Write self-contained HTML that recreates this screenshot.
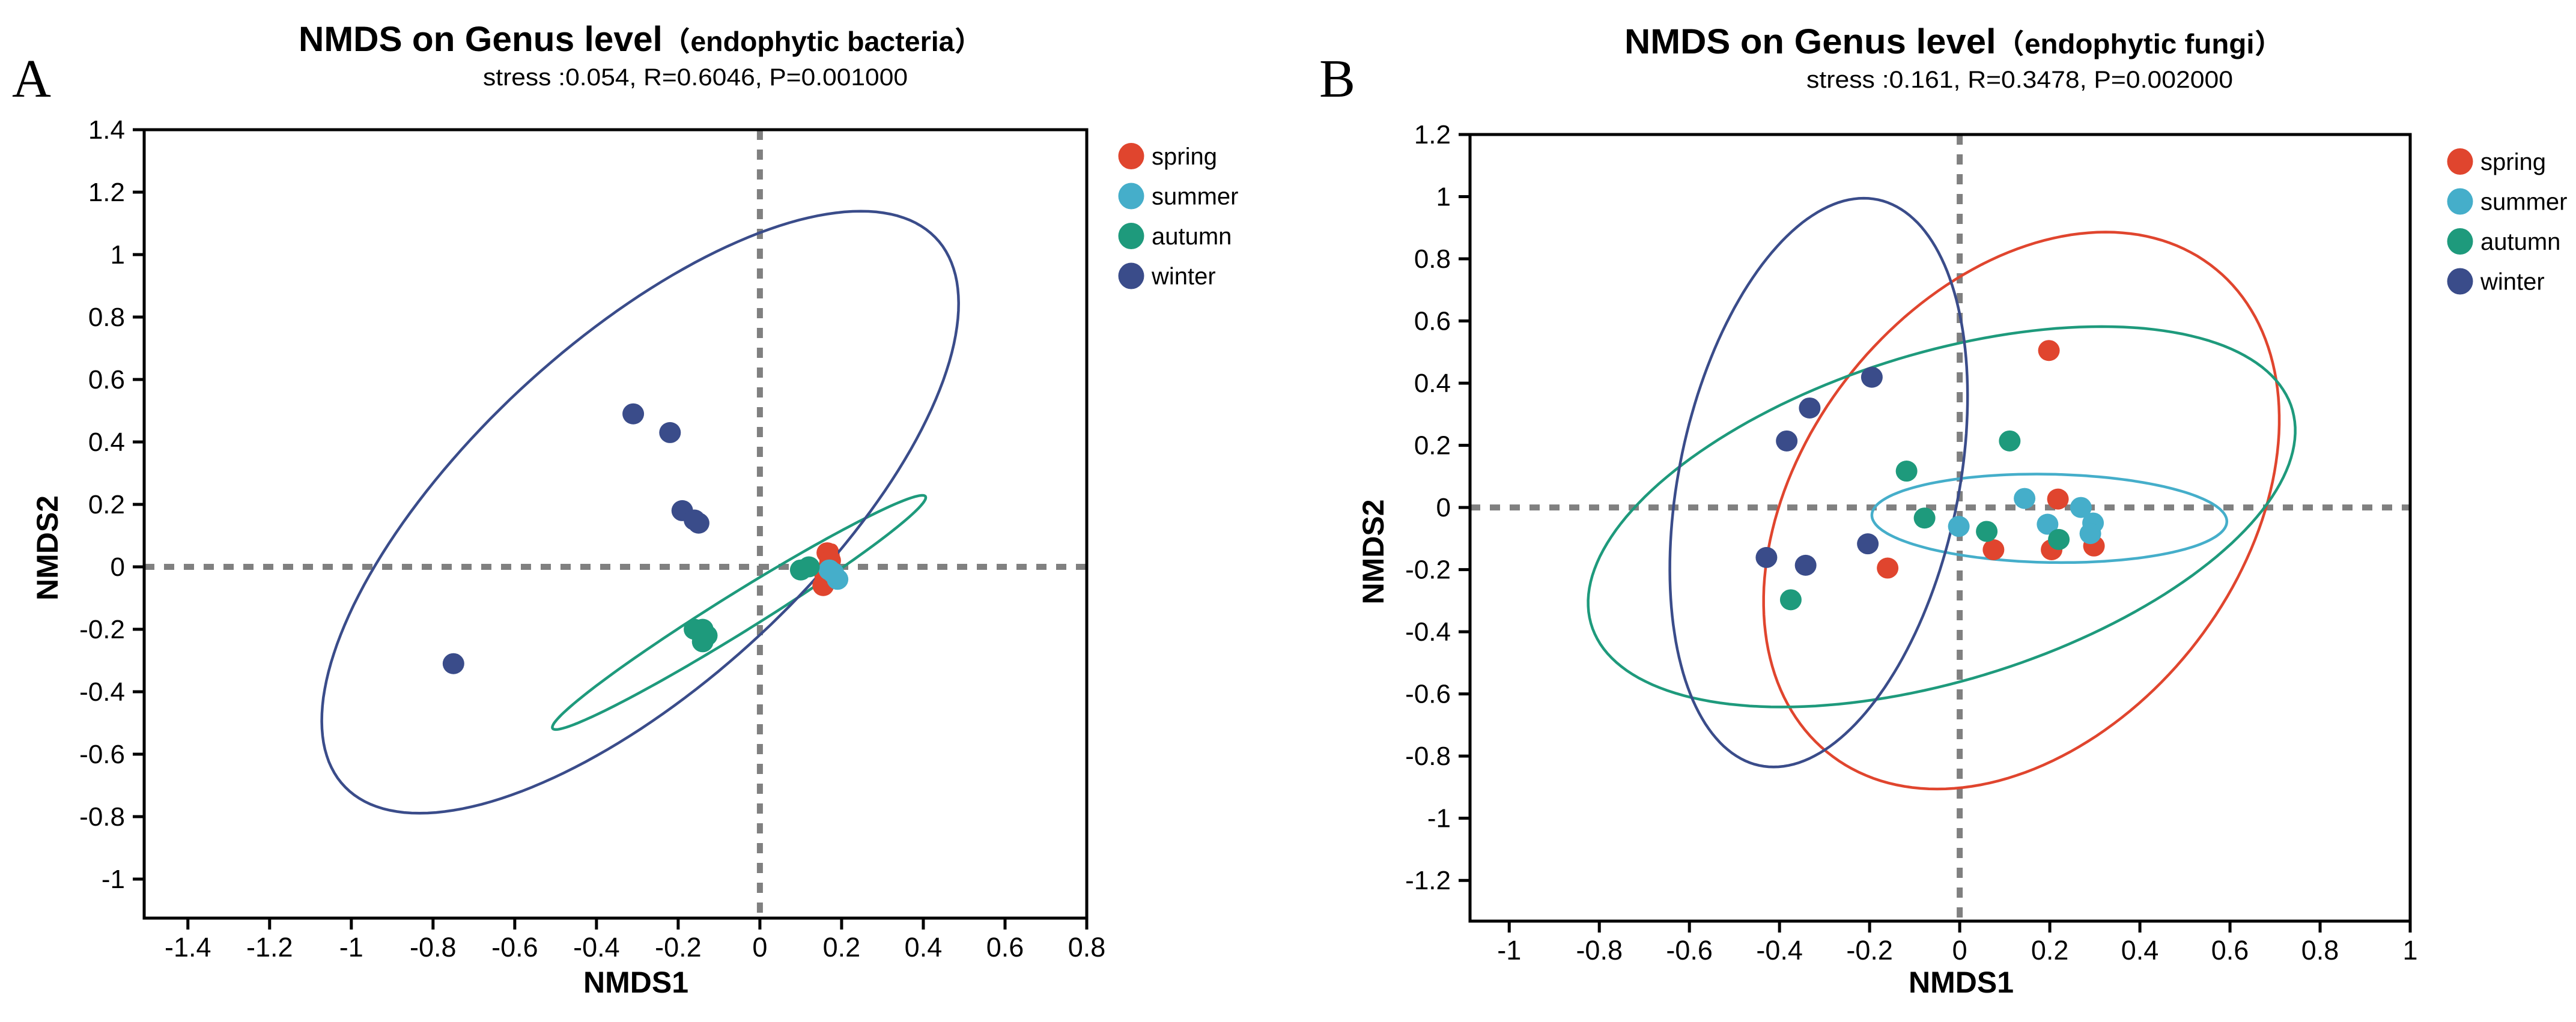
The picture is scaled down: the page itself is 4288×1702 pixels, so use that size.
<!DOCTYPE html>
<html><head><meta charset="utf-8">
<style>
html,body{margin:0;padding:0;background:#fff;}
svg{display:block;}
text{font-family:"Liberation Sans","Noto Sans CJK SC",sans-serif;fill:#000;}
</style></head>
<body>
<svg id="chart" xmlns="http://www.w3.org/2000/svg" width="4288" height="1702" viewBox="0 0 4288 1702">
<rect x="0" y="0" width="4288" height="1702" fill="#fff"/>
<g id="panelA"></g>
<g id="panelB"></g>
</svg>
<script>
const groups = ["spring","summer","autumn","winter"];
const colors = ["#E0452E","#45AECA","#1E9A7C","#3A4C8A"];

// Panel A: endophytic bacteria
const aXTicks = [-1.4,-1.2,-1,-0.8,-0.6,-0.4,-0.2,0,0.2,0.4,0.6,0.8];
const aYTicks = [-1,-0.8,-0.6,-0.4,-0.2,0,0.2,0.4,0.6,0.8,1,1.2,1.4];
const aSpringX = [0.165,0.155,0.172,0.16];
const aSpringY = [0.045,-0.06,0.02,-0.03];
const aSummerX = [0.17,0.19,0.18];
const aSummerY = [-0.01,-0.04,-0.02];
const aAutumnX = [-0.16,-0.14,-0.13,-0.14,0.10,0.12];
const aAutumnY = [-0.2,-0.2,-0.22,-0.24,-0.01,0.0];
const aWinterX = [-0.31,-0.22,-0.19,-0.16,-0.15,-0.75];
const aWinterY = [0.49,0.43,0.18,0.15,0.14,-0.31];
// ellipses: center x, center y, u vector (x,y), v vector (x,y) in data units
const aEllSpring = [0.168,0.0,0.01,0.07,0.022,0];
const aEllAutumn = [-0.051,-0.146,0.457,0.368,0,0.072];
const aEllWinter = [-0.293,0.175,0.54,0.964,0.562,0];

// Panel B: endophytic fungi
const bXTicks = [-1,-0.8,-0.6,-0.4,-0.2,0,0.2,0.4,0.6,0.8,1];
const bYTicks = [-1.2,-1,-0.8,-0.6,-0.4,-0.2,0,0.2,0.4,0.6,0.8,1,1.2];
const bSpringX = [0.198,0.218,0.075,0.204,0.298,-0.16];
const bSpringY = [0.505,0.027,-0.136,-0.136,-0.124,-0.195];
const bSummerX = [0.144,0.269,0.296,0.29,0.195,-0.002];
const bSummerY = [0.029,0.0,-0.05,-0.084,-0.054,-0.061];
const bAutumnX = [0.111,-0.118,-0.078,0.06,0.22,-0.375];
const bAutumnY = [0.214,0.117,-0.034,-0.077,-0.103,-0.297];
const bWinterX = [-0.195,-0.333,-0.384,-0.204,-0.429,-0.342];
const bWinterY = [0.419,0.32,0.214,-0.117,-0.161,-0.186];
const bEllSpring = [0.137,-0.01,0.187,0.896,0.541,0];
const bEllSummer = [0.199,-0.035,0.394,-0.01,0,0.142];
const bEllAutumn = [-0.04,-0.03,0.355,0.612,0.70,0];
const bEllWinter = [-0.313,0.08,0.10,0.915,0.315,0];

const NS = "http://www.w3.org/2000/svg";
function mk(tag, attrs, parent){
  const e = document.createElementNS(NS, tag);
  for (const k in attrs) e.setAttribute(k, attrs[k]);
  parent.appendChild(e);
  return e;
}
function fmt(v){ return (Math.round(v*10)/10).toString(); }

function drawPanel(g, cfg){
  const L=cfg.left,R=cfg.right,T=cfg.top,B=cfg.bottom;
  const sx = v => L + (v-cfg.xmin)/(cfg.xmax-cfg.xmin)*(R-L);
  const sy = v => T + (cfg.ymax-v)/(cfg.ymax-cfg.ymin)*(B-T);

  // panel letter
  const letter = mk("text",{x:cfg.letterX,y:161,"font-size":90,style:"font-family:'Liberation Serif',serif"},g);
  letter.textContent = cfg.letter;
  
  

  // titles
  const t = mk("text",{x:cfg.titleX,y:cfg.titleY,"font-size":58,"font-weight":"bold",textLength:cfg.titleW,lengthAdjust:"spacingAndGlyphs"},g);
  const t1 = mk("tspan",{},t); t1.textContent = "NMDS on Genus level";
  const t2 = mk("tspan",{"font-size":46}, t); t2.textContent = cfg.titleParen;
  
  
  const st = mk("text",{x:cfg.subX,y:cfg.titleY+57,"font-size":40,textLength:cfg.subW,lengthAdjust:"spacingAndGlyphs"},g);
  st.textContent = cfg.subtitle;
  
  

  // zero lines
  const zx = mk("line",{x1:L,x2:R,y1:sy(0),y2:sy(0),stroke:"#808080","stroke-width":10,"stroke-dasharray":"17 16"},g);
  
  
  const zy = mk("line",{x1:sx(0),x2:sx(0),y1:T,y2:B,stroke:"#808080","stroke-width":10,"stroke-dasharray":"17 16"},g);
  
  

  // ellipses
  cfg.ellipses.forEach((el,i)=>{
    if(!el) return;
    let d="";
    for(let k=0;k<=180;k++){
      const a=k/180*2*Math.PI, c=Math.cos(a), s=Math.sin(a);
      const px=sx(el[0]+el[2]*c+el[4]*s), py=sy(el[1]+el[3]*c+el[5]*s);
      d+=(k?"L":"M")+px.toFixed(1)+","+py.toFixed(1);
    }
    const p = mk("path",{d:d+"Z",fill:"none",stroke:colors[i],"stroke-width":4.5},g);
    
    
  });

  // points
  cfg.series.forEach((s,i)=>{
    s[0].forEach((xv,j)=>{
      const c = mk("ellipse",{cx:sx(xv),cy:sy(s[1][j]),rx:18,ry:17.5,fill:colors[i]},g);
      
      
    });
  });

  // frame
  const fr = mk("rect",{x:L,y:T,width:R-L,height:B-T,fill:"none",stroke:"#000","stroke-width":5},g);
  
  

  // ticks
  cfg.xticks.forEach(v=>{
    const x=sx(v);
    const tk = mk("line",{x1:x,x2:x,y1:B,y2:B+19,stroke:"#000","stroke-width":5},g);
    
    
    const lb = mk("text",{x:x,y:B+64,"font-size":45,"text-anchor":"middle"},g);
    lb.textContent = fmt(v);
    
    
  });
  cfg.yticks.forEach(v=>{
    const y=sy(v);
    const tk = mk("line",{x1:L-19,x2:L,y1:y,y2:y,stroke:"#000","stroke-width":5},g);
    
    
    const lb = mk("text",{x:L-32,y:y+15,"font-size":44,"text-anchor":"end"},g);
    lb.textContent = fmt(v);
    
    
  });

  // axis titles
  const xl = mk("text",{x:(L+R)/2-cfg.xlabOff,y:1653,"font-size":50,"font-weight":"bold","text-anchor":"middle"},g);
  xl.textContent="NMDS1";
  
  
  const yl = mk("text",{x:0,y:0,"font-size":50,"font-weight":"bold","text-anchor":"middle",transform:`translate(${cfg.ylabX},${(T+B)/2+40}) rotate(-90)`},g);
  yl.textContent="NMDS2";
  
  

  // legend
  groups.forEach((name,i)=>{
    const y = cfg.legY + i*66.5;
    const lc = mk("ellipse",{cx:cfg.legX,cy:y,rx:21.5,ry:22,fill:colors[i]},g);
    
    
    const lt = mk("text",{x:cfg.legX+34,y:y+14,"font-size":40},g);
    lt.textContent = name;
    
    
  });
}

drawPanel(document.getElementById("panelA"),{
  left:240,right:1809,top:216,bottom:1529,
  xmin:-1.507,xmax:0.8,ymin:-1.125,ymax:1.4,
  xticks:aXTicks,yticks:aYTicks,
  series:[[aSpringX,aSpringY],[aSummerX,aSummerY],[aAutumnX,aAutumnY],[aWinterX,aWinterY]],
  ellipses:[aEllSpring,null,aEllAutumn,aEllWinter],
  letter:"A",letterX:20,
  titleX:497,titleY:85,titleW:1138,titleParen:"（endophytic bacteria）",
  subtitle:"stress :0.054, R=0.6046, P=0.001000",subX:804,subW:707,
  xlabOff:-34,ylabX:96,legX:1883,legY:260
});
drawPanel(document.getElementById("panelB"),{
  left:2447,right:4012,top:224,bottom:1534,
  xmin:-1.087,xmax:1,ymin:-1.331,ymax:1.2,
  xticks:bXTicks,yticks:bYTicks,
  series:[[bSpringX,bSpringY],[bSummerX,bSummerY],[bAutumnX,bAutumnY],[bWinterX,bWinterY]],
  ellipses:[bEllSpring,bEllSummer,bEllAutumn,bEllWinter],
  letter:"B",letterX:2196,
  titleX:2704,titleY:89,titleW:1096,titleParen:"（endophytic fungi）",
  subtitle:"stress :0.161, R=0.3478, P=0.002000",subX:3007,subW:710,
  xlabOff:-35,ylabX:2303,legX:4095,legY:269
});
</script>
</body></html>
